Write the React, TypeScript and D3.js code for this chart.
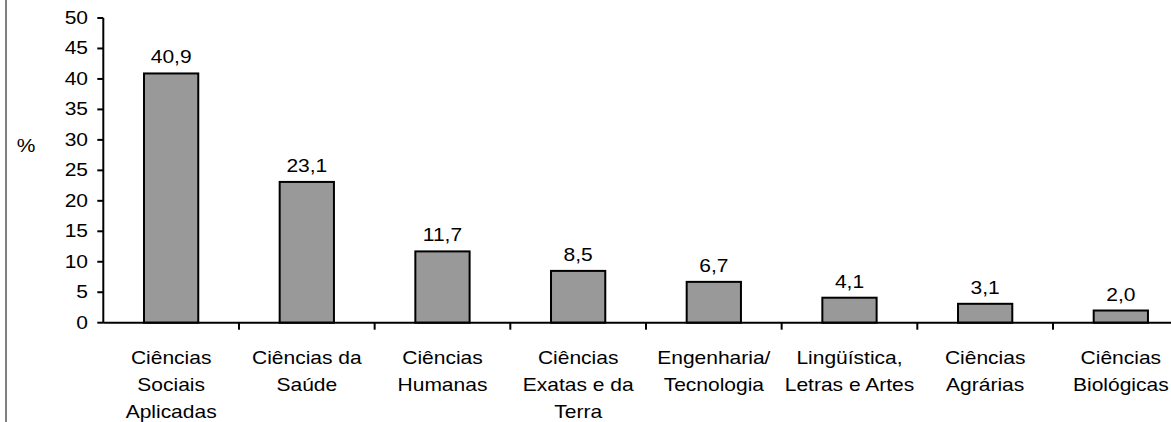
import React from "react";
import * as d3 from "d3";

const categories: string[] = [
  "Ciências\nSociais\nAplicadas",
  "Ciências da\nSaúde",
  "Ciências\nHumanas",
  "Ciências\nExatas e da\nTerra",
  "Engenharia/\nTecnologia",
  "Lingüística,\nLetras e Artes",
  "Ciências\nAgrárias",
  "Ciências\nBiológicas",
];
const values: number[] = [40.9, 23.1, 11.7, 8.5, 6.7, 4.1, 3.1, 2.0];
const yTicks: number[] = [0, 5, 10, 15, 20, 25, 30, 35, 40, 45, 50];
const yLabel = "%";

const width = 1171;
const height = 422;
const font = "'Liberation Sans', Arial, sans-serif";
const fontSize = 17.5;
const stretch = 1.2;

const App: React.FC = () => {
  const x0 = 103.3;
  const step = 135.67;
  const x = d3
    .scaleBand<string>()
    .domain(categories)
    .range([x0, x0 + step * categories.length])
    .paddingInner(0.6)
    .paddingOuter(0.3);
  const y = d3.scaleLinear().domain([0, 50]).range([322.7, 18]);

  const bound = (c: string) => x(c)! + x.bandwidth() / 2 - x.step() / 2;

  // stretched text, like the original which is wider than tall
  const label = (key: string, tx: number, ty: number, s: string, anchor = "middle") => (
    <text
      key={key}
      transform={`translate(${tx},${ty}) scale(${stretch},1)`}
      textAnchor={anchor}
      fontFamily={font}
      fontSize={fontSize}
      fill="#000"
    >
      {s}
    </text>
  );

  return (
    <svg
      width={width}
      height={height}
      style={{ position: "absolute", left: 0, top: 0, background: "#fff" }}
    >
      <line x1={6} x2={6} y1={0} y2={height} stroke="#000" strokeWidth={1} />

      {label("pct", 26, 152, yLabel)}

      {/* y axis */}
      <line x1={x0} x2={x0} y1={y(50)} y2={y(0)} stroke="#000" strokeWidth={2} />
      {yTicks.map((t) => (
        <g key={`yt${t}`}>
          <line x1={x0 - 6} x2={x0} y1={y(t)} y2={y(t)} stroke="#000" strokeWidth={2} />
          {label(`yl${t}`, 88, y(t) + 6, String(t), "end")}
        </g>
      ))}

      {/* bars */}
      {categories.map((c, i) => (
        <g key={`b${i}`}>
          <rect
            x={x(c)}
            y={y(values[i])}
            width={x.bandwidth()}
            height={y(0) - y(values[i])}
            fill="#999999"
            stroke="#000"
            strokeWidth={2}
          />
          {label(
            `v${i}`,
            x(c)! + x.bandwidth() / 2,
            y(values[i]) - 10,
            values[i].toFixed(1).replace(".", ",")
          )}
        </g>
      ))}

      {/* x axis */}
      <line x1={x0} x2={width} y1={y(0)} y2={y(0)} stroke="#000" strokeWidth={2} />
      {categories.slice(1).map((c) => (
        <line
          key={`xt${c}`}
          x1={bound(c)}
          x2={bound(c)}
          y1={y(0)}
          y2={y(0) + 7}
          stroke="#000"
          strokeWidth={2}
        />
      ))}
      {categories.map((c, i) =>
        c.split("\n").map((line, j) =>
          label(`c${i}-${j}`, x(c)! + x.bandwidth() / 2, 363.5 + j * 27, line)
        )
      )}
    </svg>
  );
};

export default App;
